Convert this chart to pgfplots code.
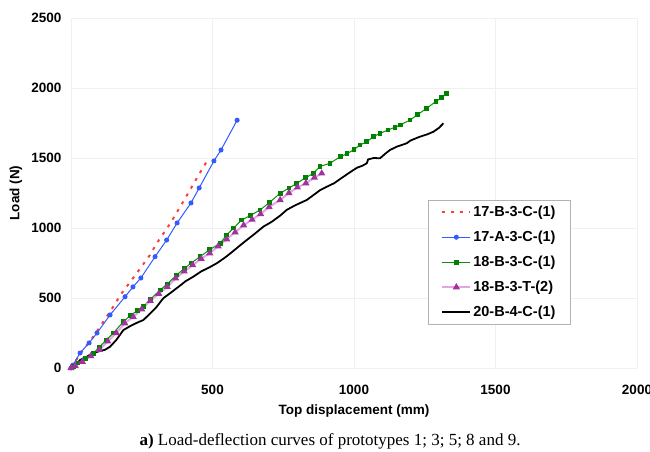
\documentclass[border=0pt]{standalone}
\usepackage{fontspec}
\setmainfont{Liberation Serif}
\setsansfont{Liberation Sans}
\usepackage{pgfplots}
\pgfplotsset{compat=1.18}
\definecolor{cred}{RGB}{255,60,60}
\definecolor{cblue}{RGB}{50,90,255}
\definecolor{cgreen}{RGB}{0,150,0}
\definecolor{cgreenm}{RGB}{0,130,0}
\definecolor{cpink}{RGB}{228,165,228}
\definecolor{cpurp}{RGB}{160,50,160}
\begin{document}
\begin{tikzpicture}
\useasboundingbox (0,0) rectangle (650pt,452pt);
\begin{axis}[
  at={(71pt,84pt)}, anchor=south west,
  scale only axis, width=566pt, height=350pt,
  xmin=0, xmax=2000, ymin=0, ymax=2500,
  xtick={0,500,1000,1500,2000},
  ytick={0,500,1000,1500,2000,2500},
  axis line style={draw=none},
  major tick length=0pt,
  grid=major,
  major grid style={color=black!6, line width=0.6pt},
  /pgf/number format/assume math mode=true,
  /pgf/number format/1000 sep={},
  ticklabel style={font=\fontsize{13.5}{15}\selectfont\sffamily\bfseries},
  xticklabel style={anchor=center, yshift=-22pt},
  yticklabel style={anchor=east, xshift=-6pt},
  xlabel={Top displacement (mm)},
  ylabel={Load (N)},
  label style={font=\fontsize{13.5}{15}\selectfont\sffamily\bfseries},
  xlabel style={at={(axis description cs:0.5,0)}, anchor=center, yshift=-43pt},
  ylabel style={at={(axis description cs:-0.0972,0.5)}, anchor=center},
  legend style={at={(0.631,0.48)}, anchor=north west, draw=black!30,
    font=\fontsize{14.5}{16}\selectfont\sffamily\bfseries,
    inner xsep=13pt, inner ysep=4pt, row sep=9pt, cells={anchor=west}},
  legend image code/.code={\draw[mark repeat=2,mark phase=2] plot coordinates {(0pt,0pt) (14pt,0pt) (28pt,0pt)};},
]
\addplot[cred, line width=2pt, dash pattern=on 3pt off 6pt] coordinates {
(0,0) (38,117) (79,224) (138,402) (179,534) (232,676) (279,807) (303,891)
(350,1030) (400,1200) (440,1340) (484,1490)};
\addlegendentry{17-B-3-C-(1)}
\addplot[cblue, line width=1pt, mark=*, mark size=2pt] coordinates {
(0,0) (7,21) (32,107) (64,179) (92,250) (138,379) (191,509) (219,579)
(247,643) (297,795) (338,914) (375,1036) (424,1179) (453,1286) (505,1479)
(530,1557) (587,1770)};
\addlegendentry{17-A-3-C-(1)}
\addplot[cgreen, line width=1pt, mark=square*, mark size=1.9pt, mark options={fill=cgreenm,draw=cgreenm}] coordinates {
(0,0) (10,12) (25,35) (50,70) (79,105) (100,150) (125,200) (150,250)
(185,331) (210,375) (235,410) (256,438) (280,490) (315,557) (340,600)
(373,664) (400,710) (425,750) (456,795) (490,845) (527,891) (550,950)
(575,1000) (603,1057) (635,1090) (668,1129) (700,1180) (739,1248)
(770,1285) (798,1319) (830,1360) (856,1390) (880,1440) (915,1462)
(951,1509) (975,1530) (1000,1560) (1021,1593) (1045,1615) (1068,1652)
(1092,1676) (1120,1700) (1145,1720) (1163,1736) (1198,1771) (1225,1810)
(1257,1855) (1290,1905) (1310,1930) (1328,1962)};
\addlegendentry{18-B-3-C-(1)}
\addplot[cpink, line width=2pt, mark=triangle*, mark size=2.2pt, mark options={fill=cpurp,draw=cpurp}] coordinates {
(0,0) (15,15) (40,45) (70,85) (100,130) (130,190) (160,250) (190,320)
(220,365) (250,420) (280,480) (310,530) (340,580) (370,640) (400,690)
(430,735) (460,780) (490,820) (520,870) (550,920) (580,970) (610,1020)
(640,1060) (670,1100) (700,1150) (739,1200) (770,1250) (800,1290)
(830,1320) (860,1360) (886,1390)};
\addlegendentry{18-B-3-T-(2)}
\addplot[black, line width=1.8pt] coordinates {
(0,0) (15,15) (32,57) (55,80) (78,107) (100,120) (120,130) (138,152)
(160,200) (185,271) (210,300) (235,325) (256,343) (280,390) (300,430)
(326,498) (350,534) (380,580) (405,620) (432,652) (460,690) (490,720)
(515,748) (545,790) (570,830) (600,880) (621,914) (650,960) (680,1010)
(710,1045) (740,1090) (762,1129) (790,1160) (833,1200) (860,1240)
(880,1270) (904,1295) (930,1320) (951,1350) (980,1390) (1010,1430)
(1030,1445) (1045,1462) (1050,1490) (1070,1500) (1092,1498) (1110,1530)
(1127,1557) (1150,1580) (1186,1605) (1200,1625) (1230,1650) (1260,1670)
(1281,1688) (1300,1715) (1316,1748)};
\addlegendentry{20-B-4-C-(1)}
\end{axis}
\node[font=\fontsize{17}{19}\selectfont] at (330pt,11pt) {\textbf{a)} Load-deflection curves of prototypes 1; 3; 5; 8 and 9.};
\end{tikzpicture}
\end{document}
